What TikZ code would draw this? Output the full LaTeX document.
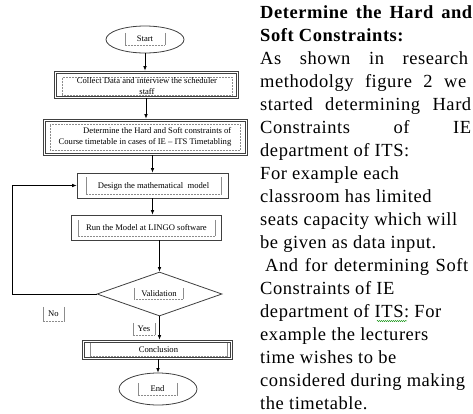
\documentclass[tikz,border=0pt]{standalone}
\usepackage{fontspec}
\setmainfont{Liberation Serif}
\newfontfamily\rtfont[LetterSpace=3]{Liberation Serif}
\usetikzlibrary{shapes.geometric,arrows.meta,decorations.pathmorphing,calc}
\begin{document}
\begin{tikzpicture}[x=1pt,y=-1pt,
  fc/.style={font=\fontsize{8.6}{11.3}\selectfont, inner sep=0pt},
  outer/.style={draw=black!75, line width=0.8pt, inner sep=0pt},
  dline/.style={draw=black!75, line width=0.6pt},
  tside/.style={draw=black!45, line width=0.5pt},
  tbot/.style={draw=black!45, line width=0.5pt, densely dotted},
  tfull/.style={draw=black!45, line width=0.5pt, densely dotted},
  arr/.style={draw=black, line width=0.7pt, -{Latex[length=4.5pt,width=3.6pt]}},
  rt/.style={anchor=base west, inner sep=0pt, font=\rtfont\fontsize{18.5}{20}\selectfont},
]
\useasboundingbox (0,0) rectangle (473,413);
\fill[white] (0,0) rectangle (473,413);

% flowchart
\node[outer, ellipse, minimum width=78pt, minimum height=27pt] (start) at (145,39.5) {};
\node[fc, minimum width=40pt, minimum height=12pt] (startT) at (145,39) {Start};

\node[outer, minimum width=184pt, minimum height=27pt] (collect) at (146,84.5) {};
\node[fc, tfull, minimum width=170pt, minimum height=18pt, align=center] (collectT) at (147,86)
  {Collect Data and interview the scheduler\\staff};

\node[outer, minimum width=204pt, minimum height=36pt] (determine) at (145,137) {};
\node[fc, tfull, minimum width=190pt, minimum height=26pt, align=right] (determineT) at (145,137)
  {Determine the Hard and Soft constraints of\\Course timetable in cases of IE -- ITS Timetabling};

\node[outer, minimum width=151pt, minimum height=25pt] (design) at (152.5,185.5) {};
\node[fc, minimum width=135pt, minimum height=17pt] (designT) at (153.5,186) {Design the mathematical\ \ model};

\node[outer, minimum width=150pt, minimum height=25pt] (run) at (146,227.5) {};
\node[fc, minimum width=137pt, minimum height=16pt] (runT) at (146.5,228) {Run the Model at LINGO software};

\node[outer, diamond, minimum width=125pt, minimum height=44pt] (valid) at (159.5,294) {};
\node[fc, minimum width=49pt, minimum height=11pt] (validT) at (159,293.5) {Validation};

\node[fc, minimum width=22pt, minimum height=12pt] (yesT) at (144,329) {Yes};
\node[fc, minimum width=21pt, minimum height=14pt] (noT) at (53.5,314) {No};

\node[outer, minimum width=150pt, minimum height=19pt] (conc) at (157,349.5) {};
\node[fc, minimum width=137pt, minimum height=13pt] (concT) at (158.5,350) {Conclusion};

\node[outer, ellipse, minimum width=78pt, minimum height=32pt] (stop) at (158,389) {};
\node[fc, minimum width=39pt, minimum height=12pt] (stopT) at (157.5,389) {End};

% second line of the double frames
\foreach \n in {collect,determine,conc}{
  \draw[dline] ($(\n.north west)+(2.2,2.2)$) rectangle ($(\n.south east)+(-2.2,-2.2)$);
}
\foreach \n in {startT,designT,runT,validT,yesT,noT,concT,stopT}{
  \draw[tside] (\n.north west) -- (\n.south west) (\n.north east) -- (\n.south east);
  \draw[tbot] (\n.south west) -- (\n.south east);
}

% connectors
\draw[arr] (start.south) -- (start.south |- collect.north);
\draw[arr] (collect.south) -- (collect.south |- determine.north);
\draw[arr] (design.north |- determine.south) -- (design.north);
\draw[arr] (design.south) -- (design.south |- run.north);
\draw[arr] (valid.north |- run.south) -- (valid.north);
\draw[arr] (valid.south) -- (valid.south |- conc.north);
\draw[arr] (stop.north |- conc.south) -- (stop.north);
\coordinate (fb) at (12,294);
\draw[arr] (valid.west) -- (fb) |- (design.west);

% right text
\node[rt] (r1) at (260,18.5) {\makebox[212pt][s]{\bfseries Determine the Hard and}};
\node[rt] (r2) at (260,41.5) {\bfseries Soft Constraints:};
\node[rt] (r3) at (260,64.5) {\makebox[208pt][s]{As shown in research}};
\node[rt] (r4) at (260,87.5) {\makebox[206pt][s]{methodolgy figure 2 we}};
\node[rt] (r5) at (260,110.5) {\makebox[211pt][s]{started determining Hard}};
\node[rt] (r6) at (260,133.5) {\makebox[211pt][s]{Constraints of IE}};
\node[rt] (r7) at (260,156.5) {department of ITS:};
\node[rt] (r8) at (260,179.5) {For example each};
\node[rt] (r9) at (260,202.5) {classroom has limited};
\node[rt] (r10) at (260,225.5) {seats capacity which will};
\node[rt] (r11) at (260,248.5) {be given as data input.};
\node[rt] (r12) at (265,271.5) {\makebox[203pt][s]{And for determining Soft}};
\node[rt] (r13) at (260,294.5) {Constraints of IE};
\node[rt] (r14) at (260,317.5) {department of ITS: For};
\node[rt] (r15) at (260,340.5) {example the lecturers};
\node[rt] (r16) at (260,363.5) {time wishes to be};
\node[rt] (r17) at (260,386.5) {considered during making};
\node[rt] (r18) at (260,409.5) {the timetable.};

\draw[green!55!black, line width=0.4pt, decorate, decoration={snake, amplitude=0.6pt, segment length=2pt}]
  (377,321) -- (407,321);
\end{tikzpicture}
\end{document}
